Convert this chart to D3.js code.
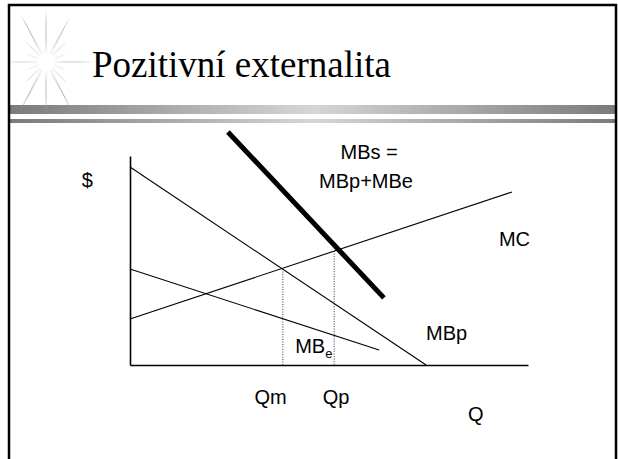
<!DOCTYPE html>
<html>
<head>
<meta charset="utf-8">
<script src="https://cdn.jsdelivr.net/npm/d3@7"></script>
<style>
  body { margin: 0; background: #fff; }
  svg { display: block; }
</style>
</head>
<body>
<div id="chart"></div>
<script>
// curves of the diagram (Q on x, $ on y, arbitrary units 0-100)
const lineNames = ["MBp", "MBe", "MC", "MBs"]
const lineStartQ = [0, 0, 0, 24.6]
const lineStartP = [94.7, 45.9, 22.0, 111.5]
const lineEndQ = [74.4, 62.6, 96.0, 63.8]
const lineEndP = [0, 7.2, 82.8, 32.1]

// quantities marked with dotted drop lines
const qNames = ["Qm", "Qp"]
const qValues = [38.4, 51.3]
const qPrices = [45.9, 54.5]

// text labels placed in the same data space
const labelTexts = ["$", "MBs =", "MBp+MBe", "MC", "MBp", "Qm", "Qp", "Q"]
const labelQ = [-12.1, 60.1, 59.3, 92.7, 74.4, 35.3, 51.8, 84.9]
const labelP = [85.2, 98.6, 84.7, 56.9, 12.0, -18.7, -18.7, -26.8]

const W = 618, H = 459

const svg = d3.select("#chart")
  .append("svg")
    .attr("width", W)
    .attr("height", H)

const defs = svg.append("defs")

const barGrad = defs.append("linearGradient")
    .attr("id", "bar")
barGrad.append("stop").attr("offset", "0%").attr("stop-color", "#7a7a7a")
barGrad.append("stop").attr("offset", "50%").attr("stop-color", "#d6d6d6")
barGrad.append("stop").attr("offset", "100%").attr("stop-color", "#7a7a7a")

const glow = defs.append("radialGradient")
    .attr("id", "glow")
    .attr("gradientUnits", "userSpaceOnUse")
    .attr("cx", 46).attr("cy", 62).attr("r", 52)
glow.append("stop").attr("offset", "0%").attr("stop-color", "#ffffff")
glow.append("stop").attr("offset", "25%").attr("stop-color", "#f2f2f2")
glow.append("stop").attr("offset", "100%").attr("stop-color", "#9a9a9a")

// title bars
svg.append("rect")
    .attr("x", 10).attr("y", 105).attr("width", 606).attr("height", 9)
    .attr("fill", "url(#bar)")
svg.append("rect")
    .attr("x", 10).attr("y", 119).attr("width", 606).attr("height", 4)
    .attr("fill", "url(#bar)")

// star decoration
const rays = [
  [0, 47], [22, 22], [45, 30], [62, 50], [90, 52], [118, 54], [135, 30], [158, 22],
  [180, 38], [202, 22], [225, 30], [242, 56], [270, 52], [298, 56], [315, 30], [338, 22]
]
const star = svg.append("g")
star.selectAll("path")
  .data(rays).enter()
  .append("path")
    .attr("fill", "url(#glow)")
    .attr("d", d => {
      const a = d[0] * Math.PI / 180, w = 3.2 * Math.PI / 180
      const cx = 46, cy = 62
      const p1 = [cx + 8 * Math.cos(a - w * 3), cy - 8 * Math.sin(a - w * 3)]
      const p2 = [cx + d[1] * Math.cos(a), cy - d[1] * Math.sin(a)]
      const p3 = [cx + 8 * Math.cos(a + w * 3), cy - 8 * Math.sin(a + w * 3)]
      return "M" + cx + "," + cy + "L" + p1 + "L" + p2 + "L" + p3 + "Z"
    })
star.append("circle")
    .attr("cx", 46).attr("cy", 62).attr("r", 9)
    .attr("fill", "#ffffff").attr("opacity", 0.9)

// frame
svg.append("path")
    .attr("d", "M9,470V5H616V470")
    .attr("fill", "none")
    .attr("stroke", "#000")
    .attr("stroke-width", 2.5)

svg.append("text")
    .attr("x", 92).attr("y", 77)
    .attr("font-family", "'Liberation Serif', 'Times New Roman', serif")
    .attr("font-size", 37)
    .text("Pozitivní externalita")

// diagram
const x = d3.scaleLinear()
    .domain([0, 100])
    .range([130, 528])
const y = d3.scaleLinear()
    .domain([0, 100])
    .range([365, 156])

svg.append("g")
    .attr("transform", "translate(0, " + y(0) + ")")
    .call(d3.axisBottom(x).ticks(0).tickSizeOuter(0))
    .call(g => g.select(".domain").attr("stroke-width", 1.6))
svg.append("g")
    .attr("transform", "translate(" + x(0) + ", 0)")
    .call(d3.axisLeft(y).ticks(0).tickSizeOuter(0))
    .call(g => g.select(".domain").attr("stroke-width", 1.6))

const curves = lineNames.map((n, i) => ({
  name: n,
  pts: [[lineStartQ[i], lineStartP[i]], [lineEndQ[i], lineEndP[i]]]
}))

const line = d3.line()
    .x(d => x(d[0]))
    .y(d => y(d[1]))

svg.selectAll(".curve")
  .data(curves).enter()
  .append("path")
    .attr("class", "curve")
    .attr("fill", "none")
    .attr("stroke", "#000")
    .attr("stroke-width", d => d.name == "MBs" ? 5 : 1.1)
    .attr("d", d => line(d.pts))

svg.selectAll(".drop")
  .data(qNames).enter()
  .append("line")
    .attr("class", "drop")
    .attr("x1", (d, i) => x(qValues[i]))
    .attr("x2", (d, i) => x(qValues[i]))
    .attr("y1", (d, i) => y(qPrices[i]))
    .attr("y2", y(0))
    .attr("stroke", "#333")
    .attr("stroke-width", 1)
    .attr("stroke-dasharray", "1,1.5")

const anchors = { "MBs =": "middle", "MBp+MBe": "middle", "Qm": "middle", "Qp": "middle" }

svg.selectAll(".lbl")
  .data(labelTexts).enter()
  .append("text")
    .attr("class", "lbl")
    .attr("x", (d, i) => x(labelQ[i]))
    .attr("y", (d, i) => y(labelP[i]))
    .attr("text-anchor", d => anchors[d] || "start")
    .attr("font-family", "'Liberation Sans', Arial, sans-serif")
    .attr("font-size", 20)
    .text(d => d)

// MB with subscript e
const mbe = svg.append("text")
    .attr("x", x(41.5)).attr("y", y(5.7))
    .attr("font-family", "'Liberation Sans', Arial, sans-serif")
    .attr("font-size", 20)
mbe.append("tspan").text("MB")
mbe.append("tspan")
    .attr("font-size", 13)
    .attr("dy", 5)
    .text("e")
</script>
</body>
</html>
